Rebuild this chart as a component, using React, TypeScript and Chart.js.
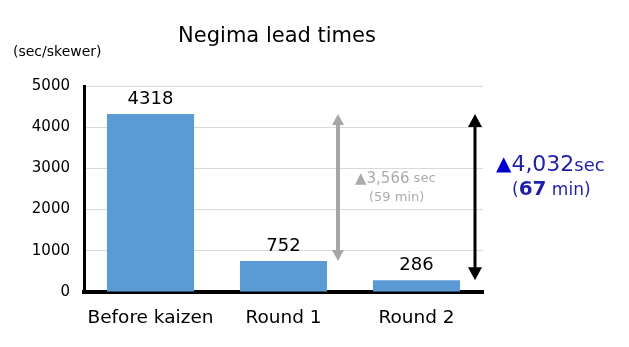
import React, { useEffect, useRef } from "react";
import { Chart, registerables } from "chart.js";

Chart.register(...registerables);

const categories = ["Before kaizen", "Round 1", "Round 2"];
const leadTimes = [4318, 752, 286];
const yTicks = [0, 1000, 2000, 3000, 4000, 5000];
const titleText = "Negima lead times";
const unitText = "(sec/skewer)";
const grayNote = ["▲3,566", " sec", "(59 min)"];
const blueNote = ["▲", "4,032", "sec", "(", "67", " min)"];

const FONT = "'DejaVu Sans', sans-serif";

function drawArrow(ctx: CanvasRenderingContext2D, x: number, y1: number, y2: number, color: string, lw: number, head: number, hw: number) {
  ctx.save();
  ctx.strokeStyle = color;
  ctx.fillStyle = color;
  ctx.lineWidth = lw;
  ctx.beginPath();
  ctx.moveTo(x, y1 + head - 1);
  ctx.lineTo(x, y2 - head + 1);
  ctx.stroke();
  ctx.beginPath();
  ctx.moveTo(x, y1);
  ctx.lineTo(x - hw, y1 + head);
  ctx.lineTo(x + hw, y1 + head);
  ctx.closePath();
  ctx.fill();
  ctx.beginPath();
  ctx.moveTo(x, y2);
  ctx.lineTo(x - hw, y2 - head);
  ctx.lineTo(x + hw, y2 - head);
  ctx.closePath();
  ctx.fill();
  ctx.restore();
}

const annotPlugin = {
  id: "annot",
  afterDatasetsDraw(chart: any) {
    const ctx: CanvasRenderingContext2D = chart.ctx;
    const x = chart.scales.x;
    const y = chart.scales.y;
    ctx.save();
    // title
    ctx.fillStyle = "#000";
    ctx.font = `21px ${FONT}`;
    ctx.textAlign = "center";
    ctx.textBaseline = "middle";
    ctx.fillText(titleText, 277, 37);
    ctx.font = `14px ${FONT}`;
    ctx.textAlign = "left";
    ctx.fillText(unitText, 13, 52);

    // data labels
    ctx.font = `18px ${FONT}`;
    ctx.textAlign = "center";
    ctx.textBaseline = "alphabetic";
    leadTimes.forEach((v, i) => {
      ctx.fillText(String(v), x.getPixelForValue(i), y.getPixelForValue(v) - 10);
    });

    // arrows
    const grayX = (x.getPixelForValue(1) + x.getPixelForValue(2)) / 2 - 12;
    drawArrow(ctx, grayX, y.getPixelForValue(leadTimes[0]), y.getPixelForValue(leadTimes[1]), "#a6a6a6", 4, 11, 6);
    const blackX = x.right - 8;
    drawArrow(ctx, blackX, y.getPixelForValue(leadTimes[0]), y.getPixelForValue(leadTimes[2]), "#000", 3, 13, 7);

    // gray note
    ctx.textAlign = "left";
    ctx.textBaseline = "middle";
    ctx.fillStyle = "#ababab";
    ctx.font = `15px ${FONT}`;
    ctx.fillText(grayNote[0], 355, 179);
    const w0 = ctx.measureText(grayNote[0]).width;
    ctx.font = `13px ${FONT}`;
    ctx.fillText(grayNote[1], 355 + w0, 179);
    ctx.fillText(grayNote[2], 369, 198);

    // blue note
    const bx = 496;
    ctx.fillStyle = "#0000cc";
    ctx.font = `20px ${FONT}`;
    ctx.fillText(blueNote[0], bx, 165);
    const tw = ctx.measureText(blueNote[0]).width;
    ctx.fillStyle = "#1f1fa8";
    ctx.font = `22px ${FONT}`;
    ctx.fillText(blueNote[1], bx + tw, 165);
    const nw = ctx.measureText(blueNote[1]).width;
    ctx.font = `18px ${FONT}`;
    ctx.fillText(blueNote[2], bx + tw + nw, 166);

    let cx = 512;
    ctx.font = `17px ${FONT}`;
    ctx.fillText(blueNote[3], cx, 191);
    cx += ctx.measureText(blueNote[3]).width;
    ctx.font = `bold 20px ${FONT}`;
    ctx.fillText(blueNote[4], cx, 190);
    cx += ctx.measureText(blueNote[4]).width;
    ctx.font = `17px ${FONT}`;
    ctx.fillText(blueNote[5], cx, 191);
    ctx.restore();
  },
};

export default function App() {
  const ref = useRef<HTMLCanvasElement | null>(null);
  useEffect(() => {
    document.body.style.margin = "0";
    const chart = new Chart(ref.current!, {
      type: "bar",
      data: {
        labels: categories,
        datasets: [
          {
            data: leadTimes,
            backgroundColor: "#5b9bd5",
            categoryPercentage: 0.655,
            barPercentage: 1,
          },
        ],
      },
      options: {
        animation: false,
        responsive: false,
        maintainAspectRatio: false,
        layout: { padding: { top: 86, right: 146, bottom: 0, left: 0 } },
        plugins: { legend: { display: false }, tooltip: { enabled: false }, title: { display: false } },
        scales: {
          x: {
            grid: { display: false, drawTicks: false },
            border: { display: true, color: "#000", width: 4 },
            ticks: { color: "#000", font: { family: FONT, size: 18.5 }, padding: 15 },
            afterFit: (s: any) => {
              s.height = 55;
            },
          },
          y: {
            min: 0,
            max: 5000,
            afterBuildTicks: (s: any) => {
              s.ticks = yTicks.map((v) => ({ value: v }));
            },
            grid: { color: "#d9d9d9", lineWidth: 1, drawTicks: false },
            border: { display: true, color: "#000", width: 3 },
            ticks: {
              color: "#000",
              font: { family: FONT, size: 15 },
              padding: 14,
              callback: (v: any) => String(v),
            },
            afterFit: (s: any) => {
              s.width = 84;
            },
          },
        },
      },
      plugins: [annotPlugin],
    });
    return () => chart.destroy();
  }, []);
  return (
    <div style={{ width: 629, height: 347 }}>
      <canvas ref={ref} width={629} height={347} style={{ display: "block" }} />
    </div>
  );
}
